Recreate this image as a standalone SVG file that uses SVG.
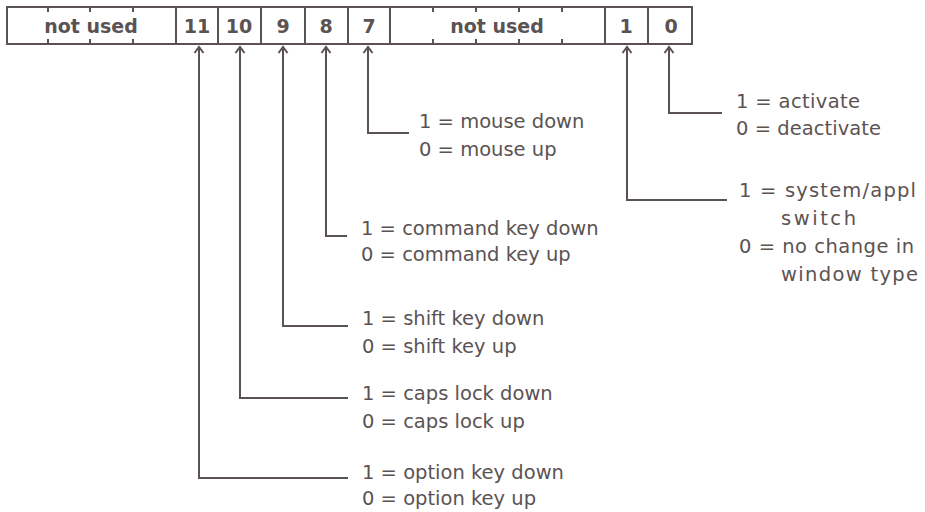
<svg xmlns="http://www.w3.org/2000/svg" width="925" height="512" viewBox="0 0 925 512">
<style>
.ln{fill:none;stroke:#5b5353;stroke-width:2}
.hd{font-family:"DejaVu Sans",sans-serif;font-weight:bold;font-size:19px;fill:#5b5353;text-anchor:middle}
.tx{font-family:"DejaVu Sans",sans-serif;font-size:19.5px;fill:#5b5353}
</style>
<defs>
<marker id="ah" markerUnits="userSpaceOnUse" markerWidth="12" markerHeight="12" viewBox="-8 -6 10 12" refX="0" refY="0" orient="auto-start-reverse" overflow="visible">
<path d="M-6,-4.5 L0,0 L-6,4.5" fill="none" stroke="#5b5353" stroke-width="2"/>
</marker>
</defs>
<rect width="925" height="512" fill="#fff"/>
<g id="register">
<rect class="ln" x="7" y="7" width="685" height="37"/>
<path class="ln" d="M176,7V44M218,7V44M261,7V44M305,7V44M348,7V44M390,7V44M605,7V44M648,7V44"/>
<path class="ln" d="M48,7v5M48,44v-5M90,7v5M90,44v-5M133,7v5M133,44v-5M433,7v5M433,44v-5M476,7v5M476,44v-5M519,7v5M519,44v-5M562,7v5M562,44v-5"/>
<text class="hd" x="91" y="33">not used</text>
<text class="hd" x="197" y="33">11</text>
<text class="hd" x="239" y="33">10</text>
<text class="hd" x="283" y="33">9</text>
<text class="hd" x="326" y="33">8</text>
<text class="hd" x="369" y="33">7</text>
<text class="hd" x="497" y="33">not used</text>
<text class="hd" x="626" y="33">1</text>
<text class="hd" x="671" y="33">0</text>
</g>
<g id="connectors">
<path class="ln" marker-start="url(#ah)" d="M199,47V478H348"/>
<path class="ln" marker-start="url(#ah)" d="M240,47V398H348"/>
<path class="ln" marker-start="url(#ah)" d="M283,47V326H348"/>
<path class="ln" marker-start="url(#ah)" d="M326,47V236H347"/>
<path class="ln" marker-start="url(#ah)" d="M368,47V133H409"/>
<path class="ln" marker-start="url(#ah)" d="M627,47V200H727"/>
<path class="ln" marker-start="url(#ah)" d="M669,47V113H722"/>
</g>
<g id="bit0">
<text class="tx" x="736" y="108" textLength="124" lengthAdjust="spacing">1 = activate</text>
<text class="tx" x="736" y="135" textLength="145" lengthAdjust="spacing">0 = deactivate</text>
</g>
<g id="bit1">
<text class="tx" x="739" y="197" textLength="177" lengthAdjust="spacing">1 = system/appl</text>
<text class="tx" x="781" y="225" textLength="75" lengthAdjust="spacing">switch</text>
<text class="tx" x="739" y="253" textLength="175" lengthAdjust="spacing">0 = no change in</text>
<text class="tx" x="781" y="281" textLength="137" lengthAdjust="spacing">window type</text>
</g>
<g id="bit7">
<text class="tx" x="419" y="128">1 = mouse down</text>
<text class="tx" x="419" y="156">0 = mouse up</text>
</g>
<g id="bit8">
<text class="tx" x="361" y="235">1 = command key down</text>
<text class="tx" x="361" y="261">0 = command key up</text>
</g>
<g id="bit9">
<text class="tx" x="362" y="325">1 = shift key down</text>
<text class="tx" x="362" y="353">0 = shift key up</text>
</g>
<g id="bit10">
<text class="tx" x="362" y="400">1 = caps lock down</text>
<text class="tx" x="362" y="428">0 = caps lock up</text>
</g>
<g id="bit11">
<text class="tx" x="362" y="479">1 = option key down</text>
<text class="tx" x="362" y="505">0 = option key up</text>
</g>
</svg>
